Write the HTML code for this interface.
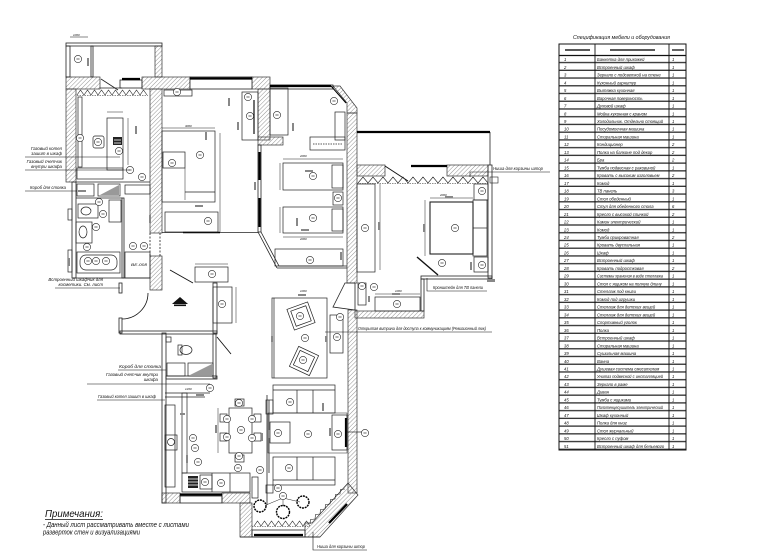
<!DOCTYPE html>
<html><head><meta charset="utf-8">
<style>
html,body{margin:0;padding:0;background:#fff;}
svg{display:block;}
text{font-family:"Liberation Sans","DejaVu Sans",sans-serif;font-style:italic;fill:#111;}
</style></head><body>
<svg width="770" height="557" viewBox="0 0 770 557" xmlns="http://www.w3.org/2000/svg" xmlns:xlink="http://www.w3.org/1999/xlink">
<defs>
<pattern id="h" width="3" height="3" patternUnits="userSpaceOnUse" patternTransform="rotate(45)"><line x1="0" y1="0" x2="0" y2="3" stroke="#777" stroke-width="0.8"/></pattern>
<pattern id="rows" x="0" y="55.5" width="200" height="7.735" patternUnits="userSpaceOnUse"><rect x="0" y="6.4" width="200" height="1.35" fill="#333"/></pattern>
<g id="c"><circle r="3.6" fill="#fff" stroke="#222" stroke-width="0.6"/><line x1="-1.6" x2="1.6" y1="0" y2="0" stroke="#444" stroke-width="0.8"/></g>
</defs>

<!-- ============ TABLE ============ -->
<text x="573" y="39" font-size="5.6" textLength="97" lengthAdjust="spacingAndGlyphs">Спецификация мебели и оборудования</text>
<rect x="559" y="55.5" width="127" height="394.5" fill="url(#rows)"/>
<rect x="559" y="44" width="127" height="406" fill="none" stroke="#111" stroke-width="1"/>
<line x1="559" y1="55.5" x2="686" y2="55.5" stroke="#111" stroke-width="1.2"/>
<line x1="595" y1="44" x2="595" y2="450" stroke="#111" stroke-width="0.9"/>
<line x1="669" y1="44" x2="669" y2="450" stroke="#111" stroke-width="0.9"/>
<g stroke="#222" stroke-width="1.4"><line x1="565" y1="50" x2="590" y2="50"/><line x1="610" y1="50" x2="655" y2="50"/><line x1="672" y1="50" x2="684" y2="50"/></g>
<g font-size="4.2">
<text x="564" y="61.1">1</text><text x="597" y="61.1">Банкетка для прихожей</text><text x="672" y="61.1">1</text>
<text x="564" y="68.84">2</text><text x="597" y="68.84">Встроенный шкаф</text><text x="672" y="68.84">1</text>
<text x="564" y="76.57">3</text><text x="597" y="76.57">Зеркало с подсветкой на стене</text><text x="672" y="76.57">1</text>
<text x="564" y="84.31">4</text><text x="597" y="84.31">Кухонный гарнитур</text><text x="672" y="84.31">1</text>
<text x="564" y="92.04">5</text><text x="597" y="92.04">Вытяжка кухонная</text><text x="672" y="92.04">1</text>
<text x="564" y="99.78">6</text><text x="597" y="99.78">Варочная поверхность</text><text x="672" y="99.78">1</text>
<text x="564" y="107.51">7</text><text x="597" y="107.51">Духовой шкаф</text><text x="672" y="107.51">1</text>
<text x="564" y="115.25">8</text><text x="597" y="115.25">Мойка кухонная с краном</text><text x="672" y="115.25">1</text>
<text x="564" y="122.98">9</text><text x="597" y="122.98" textLength="66" lengthAdjust="spacingAndGlyphs">Холодильник. Отдельно стоящий</text><text x="672" y="122.98">1</text>
<text x="564" y="130.72">10</text><text x="597" y="130.72">Посудомоечная машина</text><text x="672" y="130.72">1</text>
<text x="564" y="138.45">11</text><text x="597" y="138.45">Стиральная машина</text><text x="672" y="138.45">1</text>
<text x="564" y="146.19">12</text><text x="597" y="146.19">Кондиционер</text><text x="672" y="146.19">2</text>
<text x="564" y="153.92">13</text><text x="597" y="153.92">Полка на балконе под декор</text><text x="672" y="153.92">2</text>
<text x="564" y="161.66">14</text><text x="597" y="161.66">Бра</text><text x="672" y="161.66">2</text>
<text x="564" y="169.39">15</text><text x="597" y="169.39">Тумба подвесная с раковиной</text><text x="672" y="169.39">1</text>
<text x="564" y="177.13">16</text><text x="597" y="177.13">Кровать с высоким изголовьем</text><text x="672" y="177.13">2</text>
<text x="564" y="184.86">17</text><text x="597" y="184.86">Комод</text><text x="672" y="184.86">1</text>
<text x="564" y="192.6">18</text><text x="597" y="192.6">ТВ панель</text><text x="672" y="192.6">3</text>
<text x="564" y="200.33">19</text><text x="597" y="200.33">Стол обеденный</text><text x="672" y="200.33">1</text>
<text x="564" y="208.07">20</text><text x="597" y="208.07">Стул для обеденного стола</text><text x="672" y="208.07">6</text>
<text x="564" y="215.8">21</text><text x="597" y="215.8">Кресло с высокой спинкой</text><text x="672" y="215.8">2</text>
<text x="564" y="223.54">22</text><text x="597" y="223.54">Камин электрический</text><text x="672" y="223.54">1</text>
<text x="564" y="231.27">23</text><text x="597" y="231.27">Комод</text><text x="672" y="231.27">1</text>
<text x="564" y="239.01">24</text><text x="597" y="239.01">Тумба прикроватная</text><text x="672" y="239.01">2</text>
<text x="564" y="246.74">25</text><text x="597" y="246.74">Кровать двуспальная</text><text x="672" y="246.74">1</text>
<text x="564" y="254.48">26</text><text x="597" y="254.48">Шкаф</text><text x="672" y="254.48">1</text>
<text x="564" y="262.21">27</text><text x="597" y="262.21">Встроенный шкаф</text><text x="672" y="262.21">1</text>
<text x="564" y="269.95">28</text><text x="597" y="269.95">Кровать подростковая</text><text x="672" y="269.95">2</text>
<text x="564" y="277.68">29</text><text x="597" y="277.68" textLength="66" lengthAdjust="spacingAndGlyphs">Системы хранения в виде стеллажа</text><text x="672" y="277.68">1</text>
<text x="564" y="285.42">30</text><text x="597" y="285.42">Стол с ящиком на полную длину</text><text x="672" y="285.42">1</text>
<text x="564" y="293.15">31</text><text x="597" y="293.15">Стеллаж под книги</text><text x="672" y="293.15">1</text>
<text x="564" y="300.89">32</text><text x="597" y="300.89">Комод под игрушки</text><text x="672" y="300.89">1</text>
<text x="564" y="308.62">33</text><text x="597" y="308.62">Стеллаж для детских вещей</text><text x="672" y="308.62">1</text>
<text x="564" y="316.36">34</text><text x="597" y="316.36">Стеллаж для детских вещей</text><text x="672" y="316.36">1</text>
<text x="564" y="324.09">35</text><text x="597" y="324.09">Спортивный уголок</text><text x="672" y="324.09">1</text>
<text x="564" y="331.83">36</text><text x="597" y="331.83">Полка</text><text x="672" y="331.83">1</text>
<text x="564" y="339.56">37</text><text x="597" y="339.56">Встроенный шкаф</text><text x="672" y="339.56">1</text>
<text x="564" y="347.3">38</text><text x="597" y="347.3">Стиральная машина</text><text x="672" y="347.3">1</text>
<text x="564" y="355.03">39</text><text x="597" y="355.03">Сушильная машина</text><text x="672" y="355.03">1</text>
<text x="564" y="362.77">40</text><text x="597" y="362.77">Ванна</text><text x="672" y="362.77">1</text>
<text x="564" y="370.5">41</text><text x="597" y="370.5">Душевая система смесителем</text><text x="672" y="370.5">1</text>
<text x="564" y="378.24">42</text><text x="597" y="378.24" textLength="66" lengthAdjust="spacingAndGlyphs">Унитаз подвесной с инсталляцией</text><text x="672" y="378.24">1</text>
<text x="564" y="385.97">43</text><text x="597" y="385.97">Зеркало в раме</text><text x="672" y="385.97">1</text>
<text x="564" y="393.71">44</text><text x="597" y="393.71">Диван</text><text x="672" y="393.71">1</text>
<text x="564" y="401.44">45</text><text x="597" y="401.44">Тумба с ящиками</text><text x="672" y="401.44">1</text>
<text x="564" y="409.18">46</text><text x="597" y="409.18" textLength="66" lengthAdjust="spacingAndGlyphs">Полотенцесушитель электрический</text><text x="672" y="409.18">1</text>
<text x="564" y="416.91">47</text><text x="597" y="416.91">Шкаф кухонный</text><text x="672" y="416.91">1</text>
<text x="564" y="424.65">48</text><text x="597" y="424.65">Полка для книг</text><text x="672" y="424.65">1</text>
<text x="564" y="432.38">49</text><text x="597" y="432.38">Стол журнальный</text><text x="672" y="432.38">1</text>
<text x="564" y="440.12">50</text><text x="597" y="440.12">Кресло с пуфом</text><text x="672" y="440.12">1</text>
<text x="564" y="447.85">51</text><text x="597" y="447.85">Встроенный шкаф для бельевого</text><text x="672" y="447.85">1</text>
</g>

<!-- ============ HATCHED WALLS ============ -->
<g fill="url(#h)" stroke="#333" stroke-width="0.7">
<rect x="155" y="46" width="7" height="31"/>
<rect x="66" y="77" width="34" height="12"/>
<rect x="142" y="77" width="48" height="12"/>
<rect x="252" y="77" width="18" height="12"/>
<rect x="66" y="89" width="10" height="93"/>
<rect x="150" y="89" width="12" height="144"/>
<rect x="150" y="256" width="12" height="34"/>
<rect x="258" y="89" width="12" height="51"/>
<rect x="258" y="137" width="25" height="8"/>
<polygon points="333,86 340,86 357,108 357,113 347,113 347,103"/>
<rect x="347" y="113" width="10" height="170"/>
<rect x="348" y="310" width="9" height="183"/>
<rect x="355" y="311" width="69" height="7"/>
<rect x="357" y="165" width="28" height="11"/>
<rect x="447" y="165" width="41" height="11"/>
<rect x="162" y="493" width="18" height="10"/>
<rect x="222" y="493" width="28" height="10"/>
<rect x="240" y="503" width="12" height="34"/>
<polygon points="348,483 358,495 320,537 305,537 305,523 312,523"/>
</g>

<!-- ============ THIN WALLS / WINDOWS ============ -->
<g fill="none" stroke="#222" stroke-width="0.8">
<rect x="66" y="43" width="96" height="3"/>
<rect x="66" y="46" width="4" height="31"/>
<rect x="91" y="46" width="2" height="31"/>
<line x1="101" y1="79" x2="118" y2="90"/>
<line x1="100" y1="88" x2="122" y2="88"/>
<rect x="120" y="80" width="22" height="8"/>
<rect x="190" y="77" width="62" height="12" fill="#fff"/>
<rect x="270" y="85" width="63" height="4"/>
<rect x="72" y="182" width="4" height="96"/>
<line x1="76" y1="182" x2="150" y2="182"/>
<rect x="258" y="145" width="3" height="87"/>
<line x1="162" y1="232.5" x2="258" y2="232.5"/>
<line x1="490" y1="132" x2="490" y2="165"/>
<rect x="488" y="165" width="4" height="113"/>
<rect x="421" y="276" width="71" height="3"/>
<rect x="421" y="279" width="3" height="32"/>
<rect x="162" y="333" width="4" height="170"/>
<rect x="120" y="331" width="97" height="3"/>
<rect x="119" y="318" width="3" height="15"/>
<rect x="119" y="283" width="3" height="10"/>
<rect x="166" y="376" width="51" height="3"/>
<rect x="213" y="283" width="4" height="50"/>
<rect x="213" y="334" width="3" height="44"/>
<rect x="122" y="198" width="2" height="80"/>
<line x1="76" y1="198" x2="122" y2="198"/>
<line x1="73" y1="278" x2="150" y2="278"/>
<rect x="180" y="496" width="42" height="7"/>
<rect x="252" y="530" width="53" height="7"/>
<line x1="240" y1="537" x2="320" y2="537"/>
<line x1="258" y1="232" x2="277" y2="268"/>
<line x1="261" y1="232" x2="279" y2="266"/>
<line x1="277" y1="268" x2="347" y2="268"/>
<line x1="279" y1="266" x2="347" y2="266"/>
<path d="M345,283 L355,283 L355,310 L333,307 Z"/>
<line x1="267" y1="395" x2="267" y2="505"/>
<line x1="269" y1="400" x2="269" y2="473"/>
<line x1="150" y1="233" x2="150" y2="256" stroke-dasharray="2 1.5"/>
<line x1="160" y1="233" x2="160" y2="256" stroke-dasharray="2 1.5"/>
</g>
<g stroke="#000" stroke-width="2.2">
<line x1="190" y1="78.5" x2="252" y2="78.5"/>
<line x1="270" y1="86" x2="331" y2="86"/>
<line x1="331" y1="86" x2="346" y2="103" stroke-width="1"/>
<line x1="357" y1="132" x2="490" y2="132"/>
<line x1="122" y1="79" x2="140" y2="79"/>
<line x1="411" y1="166" x2="447" y2="166"/>
<line x1="180" y1="494.5" x2="222" y2="494.5"/>
<line x1="254" y1="535" x2="303" y2="535"/>
<line x1="347" y1="504" x2="329" y2="523"/>
<line x1="259.5" y1="152" x2="259.5" y2="180"/>
<line x1="259.5" y1="198" x2="259.5" y2="227"/>
<line x1="183" y1="232.5" x2="220" y2="232.5" stroke-width="1.4"/>
<line x1="346" y1="418" x2="346" y2="447"/>
</g>
<line x1="385" y1="166" x2="408" y2="181" stroke="#111" stroke-width="1"/>
<line x1="417" y1="257" x2="438" y2="275" stroke="#111" stroke-width="1.4"/>
<line x1="170" y1="270" x2="193" y2="283" stroke="#111" stroke-width="0.9"/>
<line x1="217" y1="337" x2="231" y2="354" stroke="#111" stroke-width="0.9"/>
<path d="M148,293 A26,26 0 0 1 122,319" fill="none" stroke="#111" stroke-width="0.8"/>

<!-- curtains -->
<g fill="none" stroke="#222" stroke-width="0.6">
<polyline points="77,95 80.5,90 84,95 87.5,90 91,95 94.5,90 98,95 101.5,90 105,95 108.5,90 112,95 115.5,90 119,95 122.5,90 126,95 129.5,90 133,95 136.5,90 140,95 143.5,90 147,95"/>
<line x1="77" y1="95.5" x2="148" y2="95.5" stroke-dasharray="1.5 1"/>
<polyline points="358,183 363,177 368,183 373,177 378,183 383,177 388,183 393,177 398,183 403,177 408,183 413,177 418,183 423,177 428,183 433,177 438,183 443,177 448,183 453,177 458,183 463,177 468,183 473,177 478,183 483,177 488,183"/>
<line x1="357" y1="183.5" x2="488" y2="183.5" stroke-dasharray="1.5 1"/>
<rect x="490" y="177" width="8" height="6"/>
<polyline points="254,526 257.5,521 261,526 264.5,521 268,526 271.5,521 275,526 278.5,521 282,526 285.5,521 289,526 292.5,521 296,526 299.5,521 303,526 306.5,521 310,526"/>
<line x1="252" y1="526.5" x2="310" y2="526.5" stroke-dasharray="1.5 1"/>
<polyline points="310,524 310.5,519.5 315,519 315.5,514.5 320,514 320.5,509.5 325,509 325.5,504.5 330,504 330.5,499.5 335,499 335.5,494.5 340,494 340.5,489.5 345,489"/>
</g>

<!-- ============ FURNITURE ============ -->
<g fill="none" stroke="#222" stroke-width="0.7">
<rect x="78" y="97" width="4" height="70"/>
<rect x="107" y="118" width="16" height="52"/>
<rect x="93" y="136" width="11" height="12" rx="2"/>
<rect x="77" y="168" width="46" height="11"/>
<rect x="125" y="185" width="25" height="9"/>
<line x1="128" y1="118" x2="128" y2="165" stroke-width="0.5"/>
<line x1="107" y1="112" x2="123" y2="112" stroke-width="0.5"/>
<rect x="77" y="184" width="17" height="12"/>
<rect x="98" y="184" width="22" height="12"/>
<rect x="78" y="204" width="20" height="14"/>
<ellipse cx="86" cy="211" rx="5" ry="4"/>
<rect x="109" y="200" width="12" height="22"/>
<rect x="76" y="222" width="16" height="21"/>
<ellipse cx="83" cy="232" rx="4" ry="6"/>
<rect x="77" y="252" width="43" height="21"/>
<rect x="80" y="255" width="37" height="15" rx="6"/>
<rect x="125" y="252" width="25" height="26"/>
<rect x="68" y="250" width="4" height="22"/>
<rect x="68" y="209" width="4" height="11"/>
<rect x="162" y="131" width="53" height="71"/>
<rect x="163" y="152" width="22" height="16"/>
<line x1="185" y1="192" x2="215" y2="192"/>
<line x1="185" y1="168" x2="185" y2="200" stroke-width="0.5"/>
<line x1="162" y1="128" x2="215" y2="128" stroke-width="0.5"/>
<line x1="220" y1="133" x2="220" y2="232" stroke-width="0.5"/>
<rect x="165" y="212" width="53" height="20"/>
<rect x="242" y="92" width="16" height="48"/>
<line x1="254" y1="100" x2="254" y2="134" stroke-width="1.3"/>
<rect x="164" y="90" width="28" height="6"/>
<rect x="270" y="88" width="18" height="47"/>
<rect x="335" y="112" width="10" height="28"/>
<rect x="310" y="137" width="35" height="13"/>
<line x1="313" y1="144" x2="342" y2="144" stroke-dasharray="1.5 1"/>
<rect x="283" y="163" width="60" height="27"/>
<rect x="332" y="165" width="11" height="23"/>
<rect x="333" y="192" width="10" height="13"/>
<rect x="283" y="207" width="60" height="26"/>
<rect x="332" y="209" width="11" height="22"/>
<line x1="280" y1="163" x2="280" y2="190" stroke-width="0.5"/>
<line x1="280" y1="207" x2="280" y2="233" stroke-width="0.5"/>
<line x1="283" y1="159" x2="343" y2="159" stroke-width="0.5"/>
<line x1="283" y1="237" x2="343" y2="237" stroke-width="0.5"/>
<rect x="275" y="249" width="68" height="17"/>
<rect x="357" y="184" width="18" height="88"/>
<line x1="380" y1="184" x2="380" y2="270" stroke-width="0.5"/>
<rect x="430" y="202" width="43" height="52" stroke-width="1.1"/>
<rect x="473" y="200" width="14" height="56"/>
<line x1="473" y1="228" x2="487" y2="228"/>
<rect x="474" y="184" width="14" height="16"/>
<rect x="474" y="257" width="14" height="15"/>
<line x1="425" y1="200" x2="425" y2="256" stroke-width="0.5"/>
<line x1="430" y1="198" x2="473" y2="198" stroke-width="0.5"/>
<rect x="358" y="283" width="8" height="22"/>
<rect x="375" y="297" width="45" height="14"/>
<line x1="375" y1="294" x2="420" y2="294" stroke-width="0.5"/>
<rect x="195" y="267" width="33" height="15"/>
<rect x="213" y="287" width="19" height="36"/>
<line x1="236" y1="287" x2="236" y2="323" stroke-width="0.5"/>
<line x1="195" y1="264" x2="228" y2="264" stroke-width="0.5"/>
<rect x="166" y="337" width="5" height="5"/>
<ellipse cx="186" cy="350" rx="6" ry="4.5"/>
<rect x="178" y="345" width="4" height="10"/>
<rect x="167" y="363" width="18" height="13"/>
<rect x="188" y="363" width="25" height="13"/>
<line x1="165" y1="393" x2="210" y2="393"/>
<line x1="165" y1="397" x2="205" y2="397"/>
<rect x="165" y="405" width="10" height="82"/>
<rect x="182" y="393" width="5" height="80"/>
<rect x="165" y="435" width="12" height="15"/>
<circle cx="171" cy="442" r="3.5"/>
<rect x="182" y="473" width="68" height="19"/>
<rect x="200" y="475" width="12" height="14"/>
<line x1="212" y1="473" x2="212" y2="492"/>
<line x1="230" y1="473" x2="230" y2="492"/>
<rect x="229" y="408" width="23" height="45"/>
<rect x="220" y="414" width="7" height="8"/><rect x="220" y="433" width="7" height="8"/>
<rect x="254" y="414" width="7" height="8"/><rect x="254" y="433" width="7" height="8"/>
<rect x="235" y="399" width="9" height="7"/><rect x="235" y="455" width="9" height="7"/>
<line x1="218" y1="408" x2="218" y2="453" stroke-width="0.5"/>
<rect x="252" y="477" width="6" height="21"/>
<rect x="272" y="298" width="55" height="80"/>
<line x1="274" y1="298" x2="274" y2="378"/>
<g transform="rotate(-20 301 316)"><rect x="290" y="305" width="22" height="22"/><rect x="293" y="308" width="16" height="16"/></g>
<g transform="rotate(25 304 361)"><rect x="293" y="350" width="22" height="22"/><rect x="296" y="353" width="16" height="16"/></g>
<rect x="330" y="315" width="13" height="38"/>
<rect x="273" y="385" width="62" height="28"/>
<line x1="273" y1="390" x2="335" y2="390"/>
<line x1="297" y1="390" x2="297" y2="413"/><line x1="313" y1="390" x2="313" y2="413"/>
<rect x="266" y="400" width="7" height="14"/>
<rect x="268" y="413" width="79" height="40" stroke-width="0.5"/>
<rect x="270" y="422" width="20" height="21"/>
<rect x="332" y="415" width="15" height="35"/>
<rect x="273" y="457" width="62" height="28"/>
<line x1="273" y1="480" x2="335" y2="480"/>
<line x1="297" y1="457" x2="297" y2="480"/><line x1="313" y1="457" x2="313" y2="480"/>
<line x1="347" y1="432" x2="362" y2="432"/>
<rect x="266" y="485" width="7" height="8"/>
<g stroke="#000" stroke-width="1.4" stroke-dasharray="2 0.8">
<circle cx="260" cy="506" r="6"/>
<circle cx="283" cy="512" r="6.5"/>
<circle cx="303" cy="502" r="6"/>
</g>
<polyline points="266,505 283,498 300,502" stroke-width="0.5"/>
<line x1="283" y1="498" x2="283" y2="506" stroke-width="0.5"/>
</g>
<g fill="#222">
<rect x="113" y="137" width="9" height="8"/>
<rect x="188" y="476" width="10" height="12"/>
</g>
<g stroke="#fff" stroke-width="0.8"><line x1="188" y1="479" x2="198" y2="479"/><line x1="188" y1="482" x2="198" y2="482"/><line x1="188" y1="485" x2="198" y2="485"/><line x1="114" y1="140" x2="121" y2="140"/><line x1="114" y1="143" x2="121" y2="143"/></g>
<polygon points="100,195 119,195 119,185" fill="#999"/>
<polygon points="190,375 212,375 212,364" fill="#999"/>
<polygon points="172,304 180,297 188,304" fill="#111"/>
<rect x="174" y="304.5" width="12" height="1.6" fill="#111"/>

<g fill="#888">
<rect x="87" y="58" width="2" height="8"/><rect x="228" y="98" width="2" height="8"/><rect x="237" y="122" width="2" height="8"/>
<rect x="254" y="182" width="2" height="8"/><rect x="292" y="123" width="2" height="8"/><rect x="305" y="170" width="8" height="2"/>
<rect x="296" y="218" width="2" height="8"/><rect x="340" y="252" width="2" height="8"/><rect x="378" y="222" width="2" height="8"/>
<rect x="423" y="224" width="2" height="8"/><rect x="445" y="196" width="8" height="2"/><rect x="470" y="262" width="2" height="8"/>
<rect x="322" y="403" width="2" height="8"/><rect x="329" y="428" width="2" height="8"/><rect x="268" y="430" width="2" height="8"/>
<rect x="215" y="425" width="2" height="8"/><rect x="261" y="433" width="2" height="8"/><rect x="186" y="455" width="2" height="8"/>
<rect x="180" y="413" width="5" height="2"/><rect x="196" y="394" width="8" height="2"/><rect x="195" y="205" width="8" height="2"/>
<rect x="205" y="132" width="2" height="8"/><rect x="135" y="126" width="2" height="8"/><rect x="78" y="190" width="8" height="2"/>
<rect x="298" y="294" width="8" height="2"/><rect x="271" y="336" width="2" height="6"/><rect x="325" y="336" width="2" height="6"/>
<rect x="392" y="293" width="8" height="2"/><rect x="368" y="296" width="2" height="6"/><rect x="487" y="279" width="8" height="3"/>
<rect x="149" y="215" width="2" height="8"/><rect x="68" y="258" width="2" height="8"/><rect x="301" y="229" width="8" height="2"/>
</g>

<g>
<use xlink:href="#c" x="78" y="59"/><use xlink:href="#c" x="80" y="138"/><use xlink:href="#c" x="98" y="142"/><use xlink:href="#c" x="119" y="151"/>
<use xlink:href="#c" x="130" y="170"/><use xlink:href="#c" x="142" y="177"/><use xlink:href="#c" x="177" y="92"/>
<use xlink:href="#c" x="200" y="155"/><use xlink:href="#c" x="172" y="163"/><use xlink:href="#c" x="208" y="221"/>
<use xlink:href="#c" x="248" y="97"/><use xlink:href="#c" x="250" y="116"/>
<use xlink:href="#c" x="99" y="202"/><use xlink:href="#c" x="103" y="214"/><use xlink:href="#c" x="96" y="227"/><use xlink:href="#c" x="87" y="247"/>
<use xlink:href="#c" x="88" y="261"/><use xlink:href="#c" x="96" y="261"/><use xlink:href="#c" x="106" y="261"/>
<use xlink:href="#c" x="133" y="246"/><use xlink:href="#c" x="144" y="246"/>
<use xlink:href="#c" x="277" y="115"/><use xlink:href="#c" x="334" y="101"/><use xlink:href="#c" x="313" y="176"/><use xlink:href="#c" x="338" y="198"/>
<use xlink:href="#c" x="313" y="218"/><use xlink:href="#c" x="310" y="260"/>
<use xlink:href="#c" x="482" y="191"/><use xlink:href="#c" x="455" y="228"/><use xlink:href="#c" x="365" y="228"/><use xlink:href="#c" x="482" y="265"/>
<use xlink:href="#c" x="442" y="263"/><use xlink:href="#c" x="374" y="287"/><use xlink:href="#c" x="397" y="304"/><use xlink:href="#c" x="362" y="286"/>
<use xlink:href="#c" x="212" y="274"/><use xlink:href="#c" x="222" y="304"/>
<use xlink:href="#c" x="300" y="316"/><use xlink:href="#c" x="305" y="338"/><use xlink:href="#c" x="303" y="360"/><use xlink:href="#c" x="337" y="337"/><use xlink:href="#c" x="340" y="317"/>
<use xlink:href="#c" x="290" y="402"/><use xlink:href="#c" x="278" y="433"/><use xlink:href="#c" x="308" y="434"/><use xlink:href="#c" x="338" y="434"/><use xlink:href="#c" x="365" y="433"/>
<use xlink:href="#c" x="289" y="468"/><use xlink:href="#c" x="278" y="488"/><use xlink:href="#c" x="283" y="496"/><use xlink:href="#c" x="260" y="470"/>
<use xlink:href="#c" x="210" y="388"/><use xlink:href="#c" x="193" y="438"/><use xlink:href="#c" x="195" y="448"/><use xlink:href="#c" x="198" y="462"/>
<use xlink:href="#c" x="241" y="430"/><use xlink:href="#c" x="238" y="468"/><use xlink:href="#c" x="221" y="483"/><use xlink:href="#c" x="205" y="482"/>
<use xlink:href="#c" x="227" y="419"/><use xlink:href="#c" x="252" y="419"/><use xlink:href="#c" x="227" y="437"/><use xlink:href="#c" x="252" y="438"/>
<use xlink:href="#c" x="239" y="403"/><use xlink:href="#c" x="239" y="456"/>
</g>

<g stroke="#111" stroke-width="0.6" fill="none">
<line x1="25" y1="157" x2="120" y2="157"/>
<line x1="25" y1="170" x2="130" y2="170"/>
<line x1="25" y1="191" x2="77" y2="191"/>
<line x1="55" y1="288" x2="120" y2="288"/>
<line x1="118" y1="370" x2="166" y2="370"/>
<line x1="87" y1="384" x2="210" y2="384"/>
<line x1="97" y1="400" x2="165" y2="400"/>
<polyline points="470,177 470,172 550,172"/>
<polyline points="427,278 427,291 487,291"/>
<line x1="325" y1="332" x2="492" y2="332"/>
<polyline points="313,532 313,550 367,550"/>
<line x1="70" y1="37" x2="88" y2="37"/>
</g>
<g font-size="4.4">
<text x="62" y="150" text-anchor="end">Газовый котел</text>
<text x="62" y="155" text-anchor="end">зашит в шкаф</text>
<text x="62" y="163" text-anchor="end">Газовый счетчик</text>
<text x="62" y="168" text-anchor="end">внутри шкафа</text>
<text x="30" y="189" textLength="36" lengthAdjust="spacingAndGlyphs">Короб для стояка</text>
<text x="103" y="281" text-anchor="end">Встроенный шкафчик для</text>
<text x="103" y="286" text-anchor="end">косметики. См. лист</text>
<text x="119" y="368" textLength="42" lengthAdjust="spacingAndGlyphs">Короб для стояка</text>
<text x="158" y="376" text-anchor="end">Газовый счетчик внутри</text>
<text x="158" y="381" text-anchor="end">шкафа</text>
<text x="98" y="398" textLength="58" lengthAdjust="spacingAndGlyphs">Газовый котел зашит в шкаф</text>
<text x="493" y="170" textLength="50" lengthAdjust="spacingAndGlyphs">Ниша для корзины штор</text>
<text x="433" y="289" textLength="50" lengthAdjust="spacingAndGlyphs">Кронштейн для ТВ панели</text>
<text x="358" y="330" textLength="128" lengthAdjust="spacingAndGlyphs">Открытая витрина для доступа к коммуникациям (Ревизионный люк)</text>
<text x="317" y="548" textLength="48" lengthAdjust="spacingAndGlyphs">Ниша для корзины штор</text>
<text x="131" y="266" font-size="4" textLength="16" lengthAdjust="spacingAndGlyphs">ВЕ-008</text>
</g>
<g font-size="3" fill="#333">
<text x="73" y="36">1000</text><text x="185" y="127">3000</text><text x="300" y="292">1000</text><text x="440" y="196">2000</text>
<text x="300" y="157">2000</text><text x="300" y="240">2000</text><text x="185" y="390">1200</text><text x="395" y="292">1000</text>
</g>

<text x="45" y="517" font-size="10" textLength="58" lengthAdjust="spacingAndGlyphs">Примечания:</text>
<line x1="45" y1="519.5" x2="103" y2="519.5" stroke="#111" stroke-width="0.7"/>
<text x="43" y="527" font-size="7" textLength="146" lengthAdjust="spacingAndGlyphs">- Данный лист рассматривать вместе с листами</text>
<text x="43" y="534.5" font-size="7" textLength="97" lengthAdjust="spacingAndGlyphs">разверток стен и визуализациями</text>
</svg>
</body></html>
